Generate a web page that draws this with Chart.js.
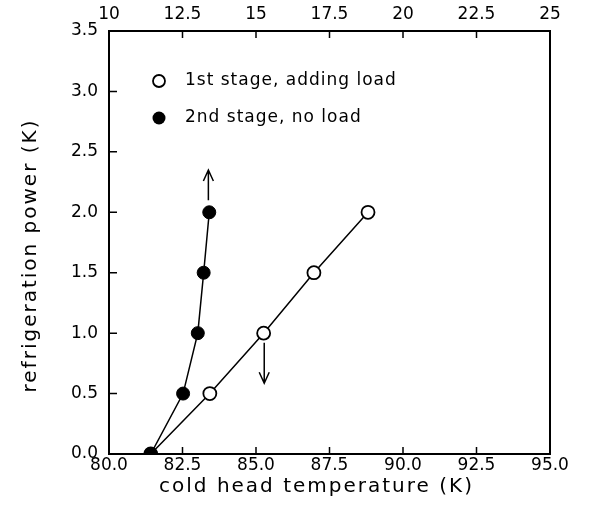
<!DOCTYPE html>
<html>
<head>
<meta charset="utf-8">
<script src="https://cdn.jsdelivr.net/npm/chart.js@4"></script>
<style>
  html, body { margin: 0; padding: 0; background: #fff; }
  #wrap { width: 591px; height: 522px; }
</style>
</head>
<body>
<div id="wrap"><canvas id="c" width="591" height="522"></canvas></div>
<script>
// ---- data ----
const stage1Label = '1st stage, adding load';
const stage2Label = '2nd stage, no load';
const stage1Temp = [81.42, 83.43, 85.26, 86.97, 88.81];   // bottom axis (K)
const stage1Power = [0.0, 0.5, 1.0, 1.5, 2.0];
const stage2Temp = [11.42, 12.52, 13.02, 13.22, 13.41];   // top axis (K)
const stage2Power = [0.0, 0.5, 1.0, 1.5, 2.0];
const bottomTicks = [80.0, 82.5, 85.0, 87.5, 90.0, 92.5, 95.0];
const bottomTickLabels = ['80.0', '82.5', '85.0', '87.5', '90.0', '92.5', '95.0'];
const topTicks = [10, 12.5, 15, 17.5, 20, 22.5, 25];
const topTickLabels = ['10', '12.5', '15', '17.5', '20', '22.5', '25'];
const yTicks = [0.0, 0.5, 1.0, 1.5, 2.0, 2.5, 3.0, 3.5];
const yTickLabels = ['0.0', '0.5', '1.0', '1.5', '2.0', '2.5', '3.0', '3.5'];
const xTitle = 'cold head temperature (K)';
const yTitle = 'refrigeration power (K)';
// trend arrows: [axis, x, from y, to y]
const arrowUp = ['x2', 13.38, 2.10, 2.35];
const arrowDown = ['x', 85.28, 0.92, 0.585];

const FONT = "'DejaVu Sans', sans-serif";

function pts(xs, ys) { return xs.map((x, i) => ({ x: x, y: ys[i] })); }
function fixedTicks(vals) { return function (s) { s.ticks = vals.map(v => ({ value: v })); }; }
function labelFrom(vals, labels) { return function (v) { const i = vals.indexOf(v); return i >= 0 ? labels[i] : ''; }; }

const framePlugin = {
  id: 'frame',
  afterDatasetsDraw(chart) {
    const { ctx, chartArea: a, scales } = chart;
    ctx.save();
    ctx.strokeStyle = '#000';
    ctx.lineWidth = 2;
    ctx.strokeRect(a.left, a.top, a.right - a.left, a.bottom - a.top);
    ctx.lineWidth = 1.5;
    const tl = 7;
    ctx.beginPath();
    bottomTicks.slice(1, -1).forEach(v => {
      const p = scales.x.getPixelForValue(v);
      ctx.moveTo(p, a.bottom); ctx.lineTo(p, a.bottom - tl);
    });
    topTicks.slice(1, -1).forEach(v => {
      const p = scales.x2.getPixelForValue(v);
      ctx.moveTo(p, a.top); ctx.lineTo(p, a.top + tl);
    });
    yTicks.slice(1, -1).forEach(v => {
      const p = scales.y.getPixelForValue(v);
      ctx.moveTo(a.left, p); ctx.lineTo(a.left + 8, p);
    });
    ctx.stroke();

    // arrows
    function arrow(def) {
      const sx = scales[def[0]];
      const x = sx.getPixelForValue(def[1]);
      const y0 = scales.y.getPixelForValue(def[2]);
      const y1 = scales.y.getPixelForValue(def[3]);
      const dir = y1 < y0 ? -1 : 1;
      ctx.beginPath();
      ctx.moveTo(x, y0); ctx.lineTo(x, y1);
      ctx.moveTo(x - 5, y1 - dir * 11); ctx.lineTo(x, y1); ctx.lineTo(x + 5, y1 - dir * 11);
      ctx.stroke();
    }
    ctx.lineWidth = 1.5;
    arrow(arrowUp);
    arrow(arrowDown);

    // legend
    const lx = a.left + 50, ly1 = a.top + 50, ly2 = a.top + 87;
    ctx.beginPath(); ctx.arc(lx, ly1, 6, 0, Math.PI * 2);
    ctx.fillStyle = '#fff'; ctx.fill(); ctx.lineWidth = 1.8; ctx.stroke();
    ctx.beginPath(); ctx.arc(lx, ly2, 6.5, 0, Math.PI * 2);
    ctx.fillStyle = '#000'; ctx.fill();
    ctx.font = '17px ' + FONT;
    ctx.letterSpacing = '1px';
    ctx.textBaseline = 'middle';
    ctx.textAlign = 'left';
    ctx.fillText(stage1Label, lx + 26, ly1);
    ctx.fillText(stage2Label, lx + 26, ly2);

    // axis titles
    ctx.font = '20px ' + FONT;
    ctx.letterSpacing = '2px';
    ctx.textAlign = 'center';
    ctx.fillText(xTitle, (a.left + a.right) / 2 - 13, a.bottom + 33);
    ctx.translate(31, (a.top + a.bottom) / 2 + 13);
    ctx.rotate(-Math.PI / 2);
    ctx.fillText(yTitle, 0, 0);
    ctx.restore();
  }
};

new Chart(document.getElementById('c'), {
  type: 'scatter',
  data: {
    datasets: [
      {
        label: stage2Label,
        data: pts(stage2Temp, stage2Power),
        xAxisID: 'x2', yAxisID: 'y',
        showLine: true,
        borderColor: '#000', borderWidth: 1.5,
        pointBackgroundColor: '#000', pointBorderColor: '#000',
        pointRadius: 6.5, pointBorderWidth: 1
      },
      {
        label: stage1Label,
        data: pts(stage1Temp, stage1Power),
        xAxisID: 'x', yAxisID: 'y',
        showLine: true,
        borderColor: '#000', borderWidth: 1.5,
        pointBackgroundColor: '#fff', pointBorderColor: '#000',
        pointRadius: 6.5, pointBorderWidth: 1.8
      }
    ]
  },
  options: {
    responsive: false,
    animation: false,
    events: [],
    layout: { padding: { left: 0, right: 41, top: 0, bottom: 0 } },
    plugins: { legend: { display: false }, tooltip: { enabled: false } },
    scales: {
      x: {
        type: 'linear', position: 'bottom', min: 80, max: 95,
        afterBuildTicks: fixedTicks(bottomTicks),
        afterFit(s) { s.height = 68; },
        grid: { display: false, drawTicks: false },
        border: { display: false },
        ticks: { autoSkip: false, maxRotation: 0, padding: 1, color: '#000',
                 font: { family: FONT, size: 17 },
                 callback: labelFrom(bottomTicks, bottomTickLabels) }
      },
      x2: {
        type: 'linear', position: 'top', min: 10, max: 25,
        afterBuildTicks: fixedTicks(topTicks),
        afterFit(s) { s.height = 31; },
        grid: { display: false, drawTicks: false },
        border: { display: false },
        ticks: { autoSkip: false, maxRotation: 0, padding: 6, color: '#000',
                 font: { family: FONT, size: 17 },
                 callback: labelFrom(topTicks, topTickLabels) }
      },
      y: {
        type: 'linear', position: 'left', min: 0, max: 3.5,
        afterBuildTicks: fixedTicks(yTicks),
        afterFit(s) { s.width = 109; },
        grid: { display: false, drawTicks: false },
        border: { display: false },
        ticks: { autoSkip: false, padding: 11, color: '#000',
                 font: { family: FONT, size: 17 },
                 callback: labelFrom(yTicks, yTickLabels) }
      }
    }
  },
  plugins: [framePlugin]
});
</script>
</body>
</html>
